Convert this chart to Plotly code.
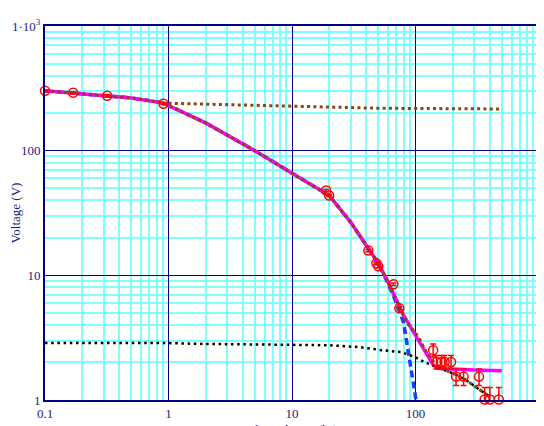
import plotly.graph_objects as go

# ---- data ----
# measured points (red circles with error bars)
meas_t = [0.1, 0.169, 0.319, 0.91, 18.9, 20.0, 41.5, 48.2, 50.0, 66.2, 74.0,
          139, 148, 163, 172, 194, 213, 245, 327, 363, 400, 473]
meas_v = [302, 291, 276, 238, 47.9, 43.7, 15.8, 12.5, 11.8, 8.47, 5.45,
          2.51, 2.02, 2.02, 2.02, 2.02, 1.54, 1.54, 1.54, 1.01, 1.01, 1.01]
meas_err_plus = [6, 6, 6, 5, 1.0, 0.9, 0.35, 0.3, 0.3, 0.2, 0.15,
                 0.3, 0.25, 0.25, 0.25, 0.25, 0.23, 0.23, 0.23, 0.25, 0.25, 0.25]
meas_err_minus = [6, 6, 6, 5, 1.0, 0.9, 0.35, 0.3, 0.3, 0.2, 0.15,
                  0.3, 0.25, 0.25, 0.25, 0.25, 0.23, 0.23, 0.23, 0.08, 0.08, 0.08]

# overall fit (magenta)
fit_t = [0.1, 0.2, 0.5, 0.9, 2, 5, 10, 20, 30, 40, 50, 60, 70, 80, 100, 120, 140, 150, 200, 300, 500]
fit_v = [302, 286, 265, 242, 167, 100, 65.5, 43.7, 26.5, 17.4, 12.5, 8.8, 6.3, 4.8, 3.3, 2.42, 1.9, 1.8, 1.77, 1.74, 1.72]

# fast component (blue dashed)
fast_t = [0.1, 0.2, 0.5, 0.9, 2, 5, 10, 20, 30, 40, 50, 60, 70, 80, 89, 95, 101]
fast_v = [302, 286, 265, 242, 167, 100, 65.5, 43.7, 26.5, 17.4, 12.4, 8.6, 6.0, 4.2, 2.2, 1.5, 1.0]

# slow component (black dotted)
slow_t = [0.1, 1, 1.8, 10, 20, 36, 53, 77, 100, 120, 150, 200, 250, 300, 350, 400]
slow_v = [2.86, 2.86, 2.82, 2.78, 2.75, 2.65, 2.51, 2.42, 2.2, 2.0, 1.84, 1.64, 1.47, 1.29, 1.16, 1.06]

# sum of components (brown dotted)
sum_t = [0.1, 0.2, 0.5, 0.9, 2, 5, 10, 20, 30, 40, 50, 60, 70, 85, 106, 120, 150, 200, 250, 300, 350, 400]
sum_v = [302, 286, 265, 242, 167, 100, 65.5, 43.7, 26.5, 17.4, 12.5, 8.8, 6.3, 4.2, 3.2, 2.5, 1.84, 1.64, 1.47, 1.29, 1.16, 1.06]

# plateau model (brown dotted, upper)
plat_t = [1, 2, 5, 10, 20, 50, 100, 500]
plat_v = [240, 236, 230, 225, 222, 219, 218, 216]

x_ticks = [0.1, 1, 10, 100, 1000]
x_ticktext = ["0.1", "1", "10", "100", "1·10<sup>3</sup>"]
y_ticks = [1, 10, 100, 1000]
y_ticktext = ["1", "10", "100", "1·10<sup>3</sup>"]
x_title = "Elapsed time (hr)"
y_title = "Voltage (V)"

NAVY = "#000080"
TEXT = "#1c1c84"
CYAN = "#80ffff"
BROWN = "#8b4513"

x_minor = [k * 10.0 ** e for e in range(-1, 3) for k in range(2, 10)]
y_minor = [k * 10.0 ** e for e in range(0, 3) for k in range(2, 10)]

fig = go.Figure()
fig.add_trace(go.Scatter(x=fast_t, y=fast_v, mode="lines",
                         line=dict(color="#1a3cff", width=3.5, dash="7px,4px")))
fig.add_trace(go.Scatter(x=fit_t, y=fit_v, mode="lines",
                         line=dict(color="#ff00ff", width=3.5)))
fig.add_trace(go.Scatter(x=slow_t, y=slow_v, mode="lines",
                         line=dict(color="black", width=2.5, dash="2.5px,3.7px")))
fig.add_trace(go.Scatter(x=sum_t, y=sum_v, mode="lines",
                         line=dict(color=BROWN, width=3, dash="3px,3.3px")))
fig.add_trace(go.Scatter(x=plat_t, y=plat_v, mode="lines",
                         line=dict(color=BROWN, width=3, dash="3px,3.3px")))
fig.add_trace(go.Scatter(x=meas_t, y=meas_v, mode="markers", cliponaxis=False,
                         marker=dict(symbol="circle-open", size=9, color="red",
                                     line=dict(color="red", width=1.5)),
                         error_y=dict(type="data", array=meas_err_plus, arrayminus=meas_err_minus,
                                      symmetric=False, color="red", thickness=1.5, width=3)))

axis_common = dict(
    type="log", showgrid=True, gridcolor=NAVY, gridwidth=1.2,
    showline=True, linecolor=NAVY, linewidth=2, mirror=True,
    ticks="", zeroline=False, automargin=False,
    tickfont=dict(family="Liberation Serif", size=13, color=TEXT),
)

fig.update_xaxes(range=[-1, 3], tickvals=x_ticks, ticktext=x_ticktext,
                 minor=dict(tickvals=x_minor, showgrid=True, gridcolor=CYAN, gridwidth=1.5, ticks=""),
                 **axis_common)
fig.update_yaxes(range=[0, 3], tickvals=y_ticks, ticktext=y_ticktext,
                 minor=dict(tickvals=y_minor, showgrid=True, gridcolor=CYAN, gridwidth=1.5, ticks=""),
                 title=dict(text=y_title, standoff=8,
                            font=dict(family="Liberation Serif", size=13, color=TEXT)),
                 **axis_common)

# x-axis title sits low, mostly below the visible window as in the reference
fig.add_annotation(text=x_title, xref="paper", yref="paper", x=0.5, y=-0.079,
                   xanchor="center", yanchor="middle", showarrow=False,
                   font=dict(family="Liberation Serif", size=13, color=TEXT))

# page body has an 8px default margin, so margins are offset to put the plot where the reference has it
fig.update_layout(width=544, height=426, margin=dict(l=37, r=13, t=18, b=34, autoexpand=False),
                  plot_bgcolor="white", paper_bgcolor="white", showlegend=False)

fig.write_html("out.html")
